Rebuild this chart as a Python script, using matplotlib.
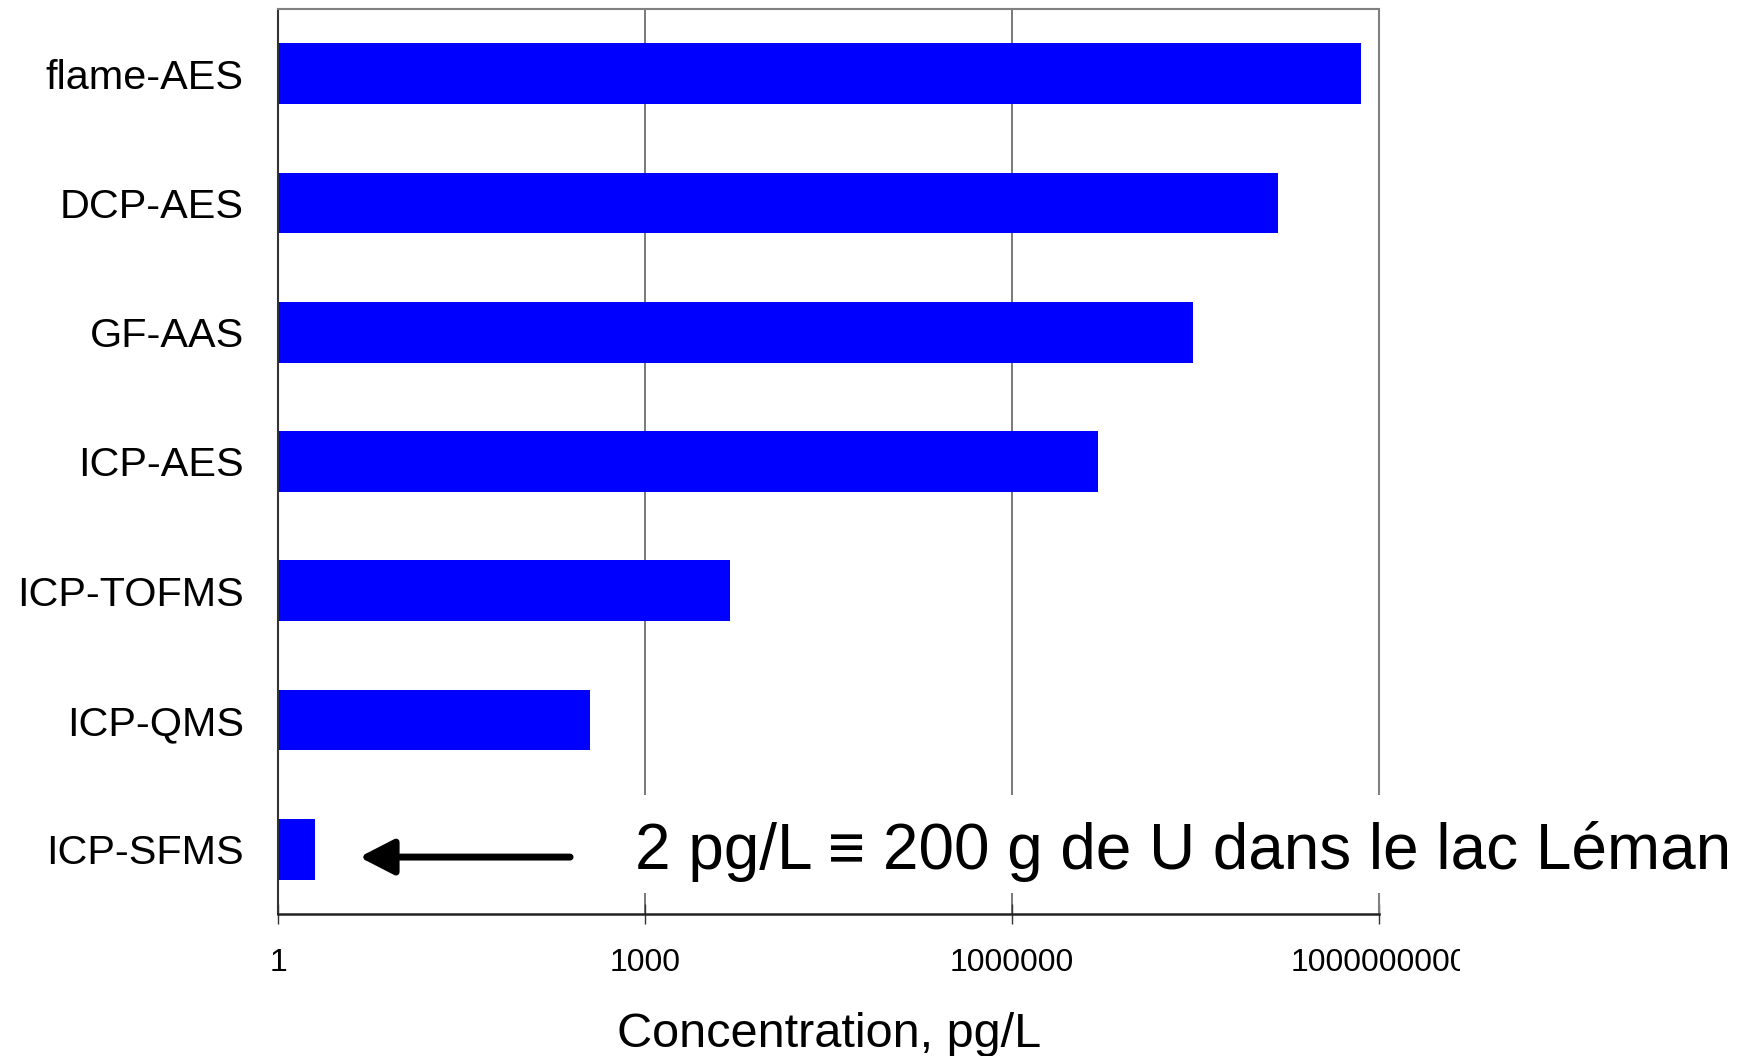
import numpy as np
import matplotlib
matplotlib.use('Agg')
import matplotlib.pyplot as plt
from matplotlib.patches import Rectangle
from matplotlib.transforms import Bbox, TransformedBbox, blended_transform_factory

plt.rcParams['font.family'] = ['Liberation Sans', 'DejaVu Sans']

# detection limits by technique (pg/L)
methods = ['flame-AES', 'DCP-AES', 'GF-AAS', 'ICP-AES', 'ICP-TOFMS', 'ICP-QMS', 'ICP-SFMS']
limits = np.array([7.1e8, 1.5e8, 3.0e7, 5.0e6, 4.9e3, 350, 2])
xticks = [1, 1e3, 1e6, 1e9]
xtick_labels = ['1', '1000', '1000000', '1000000000']
note = '2 pg/L \u2261 200 g de U dans le lac L\u00e9man'

fig = plt.figure(figsize=(17.47, 10.56), dpi=100)
ax = fig.add_axes([0.1594, 0.1345, 0.6299, 0.857])

y = np.arange(len(methods))
ax.barh(y, limits - 1, left=1, height=0.47, color='#0000ff', zorder=2)

ax.set_xscale('log')
ax.set_xlim(1, 1e9)
ax.set_ylim(len(methods) - 0.5, -0.5)
ax.set_xticks(xticks)
ax.set_xticklabels(xtick_labels, fontsize=23)
ax.minorticks_off()
ax.set_yticks(y)
ax.set_yticklabels(methods, fontsize=29.8)
ax.tick_params(axis='y', length=0, pad=25)
ax.tick_params(axis='x', direction='inout', length=14.4, width=1, pad=17, color='#333333')

ax.set_axisbelow(True)
ax.grid(axis='x', color='#555555', linewidth=1.1)
ax.grid(axis='y', visible=False)

for side in ['top', 'right']:
    ax.spines[side].set_color('#808080')
    ax.spines[side].set_linewidth(1.5)
ax.spines['left'].set_color('#333333')
ax.spines['left'].set_linewidth(1.5)
ax.spines['bottom'].set_color('#222222')
ax.spines['bottom'].set_linewidth(1.8)

ax.set_xlabel('Concentration, pg/L', fontsize=35, labelpad=24.5)

# note with arrow pointing at the ICP-SFMS bar
trans = blended_transform_factory(ax.transAxes, ax.transData)
i_sf = methods.index('ICP-SFMS')
ax.add_patch(Rectangle((0.315, i_sf - 0.418), 1.0, 0.758, transform=trans,
                       facecolor='white', edgecolor='none', zorder=3, clip_on=False))
ax.text(0.324, i_sf + 0.155, note, transform=trans, fontsize=46, ha='left', va='baseline',
        zorder=4)
ax.annotate('', xy=(0.0735, i_sf + 0.06), xytext=(0.265, i_sf + 0.06),
            xycoords=trans, textcoords=trans,
            arrowprops=dict(arrowstyle='-|>,head_length=2.1,head_width=1.08', lw=5,
                            color='black', shrinkA=0, shrinkB=0))

# the last tick label is cut off in the original
clip = TransformedBbox(Bbox([[0, 0], [1460 / 1747, 1]]), fig.transFigure)
for lab in ax.get_xticklabels():
    lab.set_clip_on(True)
    lab.set_clip_box(clip)

fig.savefig('out.png', dpi=100, facecolor='white')
